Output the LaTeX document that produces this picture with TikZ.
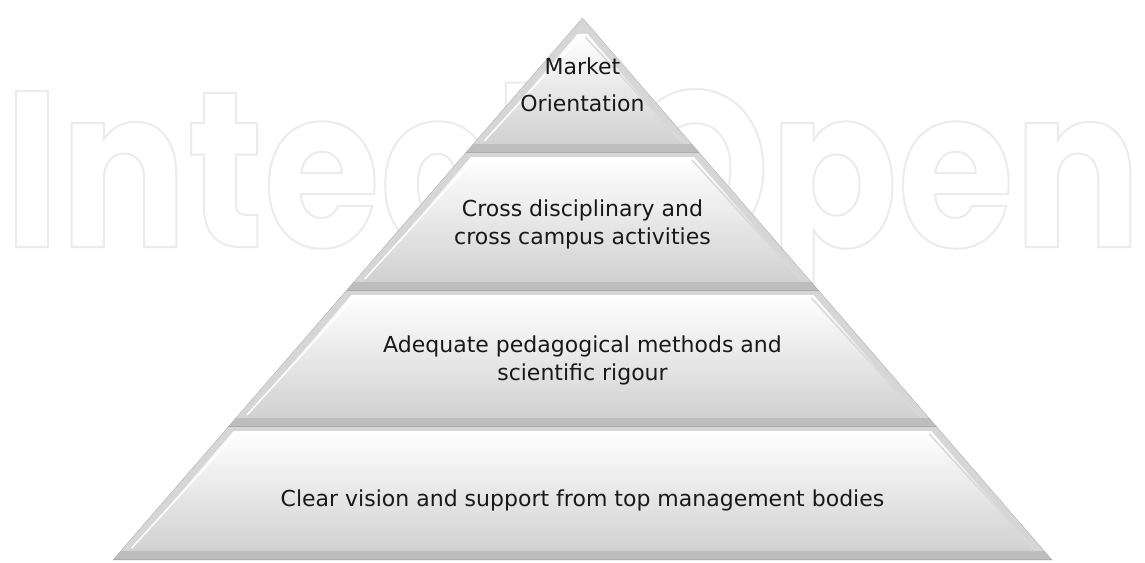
\documentclass[tikz,border=0pt]{standalone}
\usepackage{fontspec}
\setmainfont{DejaVu Sans}
\newfontfamily\wmfont{Poppins}[FakeStretch=0.85]

\tikzset{
  layerbase/.style={fill=gray!32},
  layerband/.style={fill=gray!52},
  layerface/.style={top color=white, bottom color=gray!36},
  layeredge/.style={draw=white, line width=1.5pt},
  layertext/.style={align=center, font=\fontsize{22}{28}\selectfont, text=black!90},
}

% one slice of the pyramid: top y, bottom y (in px, y downwards)
\newcommand{\pyrlayer}[2]{%
  \pgfmathsetmacro{\wt}{(#1-18)*0.8663}
  \pgfmathsetmacro{\wb}{(#2-18)*0.8663}
  \pgfmathsetmacro{\wm}{(#2-9-18)*0.8663}
  \pgfmathsetmacro{\yi}{max(#1+4,18+16)}
  \pgfmathsetmacro{\wi}{(\yi-18)*0.8663-9}
  \pgfmathsetmacro{\wj}{(#2-9-18)*0.8663-9}
  \fill[layerbase] (582.5-\wt,#1) -- (582.5+\wt,#1) -- (582.5+\wb,#2) -- (582.5-\wb,#2) -- cycle;
  \fill[layerband] (582.5-\wm,#2-9) -- (582.5+\wm,#2-9) -- (582.5+\wb,#2) -- (582.5-\wb,#2) -- cycle;
  \shade[layerface] (582.5-\wi,\yi) -- (582.5+\wi,\yi) -- (582.5+\wj,#2-9) -- (582.5-\wj,#2-9) -- cycle;
  \draw[layeredge] (582.5-\wi+2,\yi+3) -- (582.5-\wj+2,#2-12);
  \draw[layeredge,draw=white!70!gray] (582.5+\wi-2,\yi+3) -- (582.5+\wj-2,#2-12);
  \draw[gray!60] (582.5-\wt,#1) -- (582.5-\wb,#2);
  \draw[gray!60] (582.5+\wt,#1) -- (582.5+\wb,#2);
  \draw[gray!65] (582.5-\wb,#2-0.5) -- (582.5+\wb,#2-0.5);
}

\begin{document}
\begin{tikzpicture}[x=1pt,y=-1pt]
\useasboundingbox (0,0) rectangle (1145,562);

% watermark, outlined letters
\node[anchor=base west, inner sep=0pt] (watermark) at (4,247)
  {\fontsize{222}{222}\wmfont\bfseries\special{pdf:literal direct 1 Tr 2 w 0.92 G}IntechOpen\special{pdf:literal direct 0 Tr}};

% pyramid slices
\pyrlayer{18}{153}
\pyrlayer{153}{291}
\pyrlayer{291}{427}
\pyrlayer{427}{560}

% labels
\node[layertext, font=\fontsize{22}{37}\selectfont] (market) at (582.5,85) {Market\\Orientation};
\node[layertext] (cross) at (582.5,224) {Cross disciplinary and\\cross campus activities};
\node[layertext] (pedagogy) at (582.5,360) {Adequate pedagogical methods and\\scientific rigour};
\node[layertext] (vision) at (582.5,500) {Clear vision and support from top management bodies};
\end{tikzpicture}
\end{document}
